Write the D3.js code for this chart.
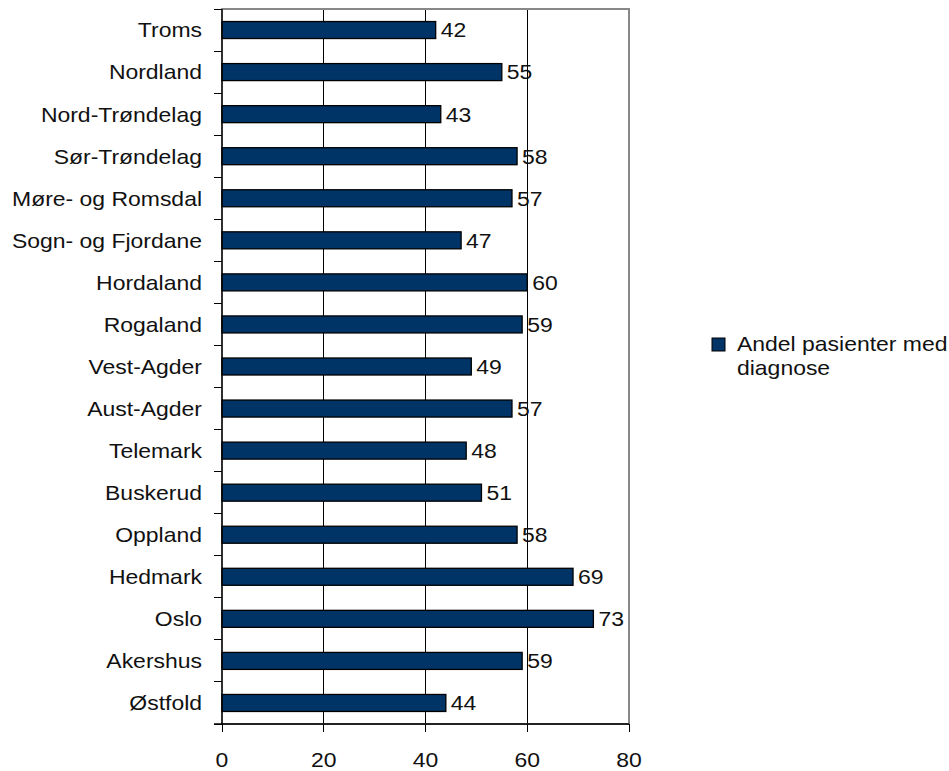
<!DOCTYPE html>
<html><head><meta charset="utf-8">
<script src="https://cdn.jsdelivr.net/npm/d3@7"></script>
<style>body{margin:0;background:#fff;} svg{display:block;font-family:"Liberation Sans",Arial,sans-serif;}</style>
</head><body>
<svg id="c" width="949" height="771"></svg>
<script>
const categories = ["Troms","Nordland","Nord-Trøndelag","Sør-Trøndelag","Møre- og Romsdal","Sogn- og Fjordane","Hordaland","Rogaland","Vest-Agder","Aust-Agder","Telemark","Buskerud","Oppland","Hedmark","Oslo","Akershus","Østfold"];
const values = [42,55,43,58,57,47,60,59,49,57,48,51,58,69,73,59,44];
const xTicks = [0,20,40,60,80];
const seriesName = ["Andel pasienter med","diagnose"];

const FS = 20.5, SX = 1.12;
const svg = d3.select("#c");
const L=222, R=629, T=9, B=724;
const x = d3.scaleLinear().domain([0,80]).range([L,R]);
const yb = d3.scaleBand().domain(categories).range([T,B]);

function txt(sel, fx, fy, anchor){
  return sel.attr("transform",(d,i)=>`translate(${fx(d,i)},${fy(d,i)}) scale(${SX},1)`)
    .attr("text-anchor",anchor).attr("font-size",FS).attr("fill","#111");
}

// gridlines
svg.append("g").selectAll("line").data(xTicks.filter(d=>d>0&&d<80)).join("line")
  .attr("x1",d=>x(d)).attr("x2",d=>x(d)).attr("y1",T).attr("y2",B)
  .attr("stroke","#000").attr("stroke-width",1).attr("shape-rendering","crispEdges");
// border
svg.append("rect").attr("x",L).attr("y",T).attr("width",R-L).attr("height",B-T)
  .attr("fill","none").attr("stroke","#888").attr("stroke-width",2).attr("shape-rendering","crispEdges");

// bars
svg.append("g").selectAll("rect").data(values).join("rect")
  .attr("x",x(0)).attr("y",(d,i)=>yb(categories[i])+yb.bandwidth()/2-8.5)
  .attr("width",d=>x(d)-x(0)).attr("height",17)
  .attr("fill","#003366").attr("stroke","#000").attr("stroke-width",1.3);

// value labels
txt(svg.append("g").selectAll("text").data(values).join("text").attr("dy","0.36em").text(d=>d),
  d=>x(d)+5, (d,i)=>yb(categories[i])+yb.bandwidth()/2, "start");

// left axis
const ya = svg.append("g").attr("transform",`translate(${L},0)`);
ya.append("line").attr("x1",0).attr("x2",0).attr("y1",T).attr("y2",B).attr("stroke","#000").attr("stroke-width",1.3);
const bounds = categories.map(c=>yb(c)).concat([B]);
ya.selectAll("line.t").data(bounds).join("line").attr("class","t")
  .attr("x1",-8).attr("x2",0).attr("y1",d=>d).attr("y2",d=>d).attr("stroke","#000").attr("shape-rendering","crispEdges");
txt(ya.selectAll("text").data(categories).join("text").attr("dy","0.36em").text(d=>d),
  d=>-20, d=>yb(d)+yb.bandwidth()/2, "end");

// bottom axis
const xa = svg.append("g").attr("transform",`translate(0,${B})`);
xa.append("line").attr("x1",L-8).attr("x2",R).attr("y1",0).attr("y2",0).attr("stroke","#000").attr("stroke-width",1.3);
xa.selectAll("line.t").data(xTicks).join("line").attr("class","t")
  .attr("x1",d=>x(d)).attr("x2",d=>x(d)).attr("y1",0).attr("y2",8).attr("stroke","#000").attr("shape-rendering","crispEdges");
txt(xa.selectAll("text").data(xTicks).join("text").text(d=>d),
  d=>x(d), d=>43, "middle");

// legend
const lg = svg.append("g");
lg.append("rect").attr("x",712).attr("y",338).attr("width",13).attr("height",13)
  .attr("fill","#003366").attr("stroke","#000").attr("stroke-width",1);
txt(lg.selectAll("text").data(seriesName).join("text").text(d=>d),
  d=>737, (d,i)=>351+i*24, "start");
</script>
</body></html>
